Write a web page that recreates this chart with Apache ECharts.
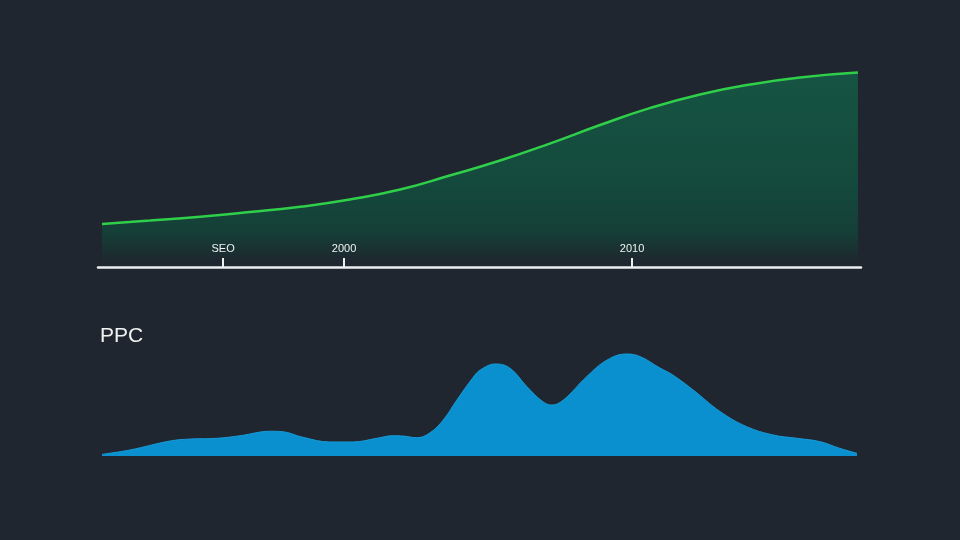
<!DOCTYPE html>
<html>
<head>
<meta charset="utf-8">
<script src="https://cdn.jsdelivr.net/npm/echarts@6/dist/echarts.min.js"></script>
<style>html,body{margin:0;padding:0;background:#1f262f;}#c{width:960px;height:540px;}</style>
</head>
<body>
<div id="c"></div>
<script>
// Top chart (SEO growth curve): x in % along axis, y in % of plot height
const seoX = [0.52, 6.8, 13.4, 19.9, 26.5, 33.0, 39.6, 46.1, 52.7, 59.2, 65.8, 72.3, 78.9, 85.5, 92.0, 99.6];
const seoY = [22.1, 23.8, 25.8, 28.2, 30.9, 34.6, 39.7, 46.9, 54.6, 63.3, 72.8, 81.5, 88.5, 93.6, 97.2, 99.7];
const tickPos = [16.4, 32.25, 70];
const tickLabels = ['SEO', '2000', '2010'];

// Bottom chart (PPC)
const ppcX = [0, 3.7, 9.0, 11.7, 15.2, 18.3, 22.3, 23.9, 26.6, 30.2, 33.2, 36.4, 38.5, 39.9, 41.7, 43.4, 45.2, 47.0, 49.1, 50.1, 52.1, 54.0, 56.3, 58.4, 59.6, 61.1, 64.2, 66.9, 69.5, 71.3, 73.9, 75.6, 78.3, 81.9, 85.4, 88.9, 92.1, 95.1, 97.7, 100];
const ppcY = [1.6, 5.8, 14.4, 16.3, 17.0, 19.5, 23.8, 23.4, 18.0, 13.5, 13.5, 17.0, 19.5, 19.2, 17.6, 22.1, 34.6, 53.8, 75.0, 82.7, 88.5, 84.6, 66.6, 52.2, 49.0, 53.8, 76.3, 92.3, 98.1, 95.5, 84.6, 77.9, 63.5, 42.6, 28.2, 20.2, 17.0, 13.8, 7.4, 2.6];
const ppcTitle = 'PPC';

const chart = echarts.init(document.getElementById('c'));
chart.setOption({
  backgroundColor: '#1f262f',
  animation: false,
  title: {
    text: ppcTitle, left: 95, top: 321,
    textStyle: { color: '#f2f2f2', fontSize: 21, fontWeight: 'normal', fontFamily: 'Liberation Sans, Arial, sans-serif' }
  },
  grid: [
    { left: 98, right: 99, top: 72, bottom: 273 },
    { left: 102, right: 103, top: 352, bottom: 84 }
  ],
  xAxis: [
    {
      gridIndex: 0, type: 'value', min: 0, max: 100, z: 10,
      splitLine: { show: false },
      axisLine: { show: true, lineStyle: { color: '#eef0f0', width: 2.5 } },
      axisTick: { show: true, inside: true, length: 9, customValues: tickPos, lineStyle: { color: '#eef0f0', width: 2 } },
      axisLabel: {
        show: true, inside: true, margin: 13, customValues: tickPos,
        color: '#f0f2f2', fontSize: 11, fontFamily: 'Liberation Sans, Arial, sans-serif',
        formatter: function (v) { const i = tickPos.indexOf(v); return i >= 0 ? tickLabels[i] : ''; }
      }
    },
    {
      gridIndex: 1, type: 'value', min: 0, max: 100, show: false
    }
  ],
  yAxis: [
    { gridIndex: 0, type: 'value', min: 0, max: 100, show: false },
    { gridIndex: 1, type: 'value', min: 0, max: 100, show: false }
  ],
  series: [
    {
      type: 'line', xAxisIndex: 0, yAxisIndex: 0, smooth: 0.5, showSymbol: false, z: 2,
      data: seoX.map((x, i) => [x, seoY[i]]),
      lineStyle: { color: '#2fcf4a', width: 2.5 },
      areaStyle: {
        opacity: 1,
        color: new echarts.graphic.LinearGradient(0, 0, 0, 1, [
          { offset: 0, color: '#165443' },
          { offset: 0.55, color: '#144a3d' },
          { offset: 0.82, color: '#153f37' },
          { offset: 0.93, color: '#1b2e31' },
          { offset: 1, color: 'rgba(31,38,47,0)' }
        ])
      }
    },
    {
      type: 'line', xAxisIndex: 1, yAxisIndex: 1, smooth: 0.4, showSymbol: false,
      data: ppcX.map((x, i) => [x, ppcY[i]]),
      lineStyle: { color: '#1a9ad6', width: 1 },
      areaStyle: { color: '#0a8fcf', opacity: 1 }
    }
  ]
});
</script>
</body>
</html>
